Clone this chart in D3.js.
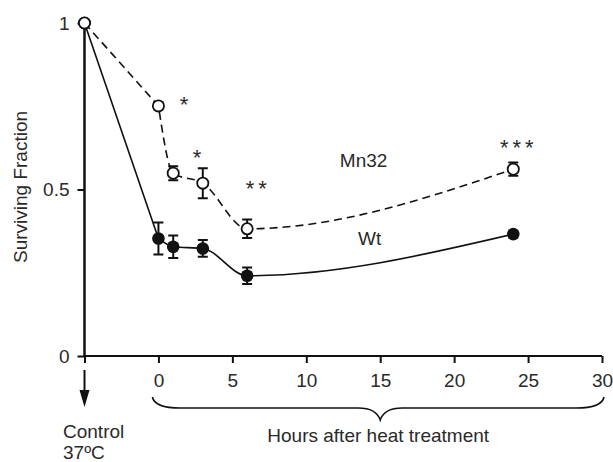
<!DOCTYPE html>
<html>
<head>
<meta charset="utf-8">
<script src="https://cdn.jsdelivr.net/npm/d3@7"></script>
<style>
  body { margin: 0; background: #fff; }
  text { font-family: "Liberation Sans", Arial, sans-serif; fill: #2a2a2a; }
</style>
</head>
<body>
<div id="chart"></div>
<script>
// hours after heat treatment; -5 is where the 37ºC control sits
const hours = [-5, 0, 1, 3, 6, 24];
const mn32 = [1.0, 0.751, 0.549, 0.519, 0.382, 0.561];
const mn32Err = [0, 0.01, 0.021, 0.045, 0.028, 0.02];
const wt = [1.0, 0.353, 0.328, 0.323, 0.241, 0.366];
const wtErr = [0, 0.048, 0.034, 0.025, 0.025, 0.01];
const xTicks = [0, 5, 10, 15, 20, 25, 30];
const yTicks = [0, 0.5, 1];

const width = 613, height = 462;
const fs = 19;

const svg = d3.select("#chart").append("svg")
    .attr("width", width).attr("height", height);

const x = d3.scaleLinear().domain([-5, 30]).range([84.5, 602]);
const y = d3.scaleLinear().domain([0, 1]).range([356, 23]);

// axes
const xAxis = svg.append("g")
    .attr("transform", `translate(0,${y(0)})`)
    .call(d3.axisBottom(x).tickValues([-5].concat(xTicks)).tickSize(7).tickPadding(11)
        .tickFormat(d => d < 0 ? "" : d));
xAxis.select(".domain").attr("stroke", "#111").attr("stroke-width", 2.2)
    .attr("d", `M${x(-5)},0H${x(30)}`);
xAxis.selectAll(".tick line").attr("stroke", "#111").attr("stroke-width", 2);
xAxis.selectAll(".tick text").attr("font-size", fs).attr("fill", "#2a2a2a")
    .attr("font-family", "Liberation Sans, Arial, sans-serif");

const yAxis = svg.append("g")
    .attr("transform", `translate(${x(-5)},0)`)
    .call(d3.axisLeft(y).tickValues(yTicks).tickSize(7).tickPadding(8)
        .tickFormat(d => d === 0.5 ? "0.5" : d));
yAxis.select(".domain").attr("stroke", "#111").attr("stroke-width", 2.5)
    .attr("d", `M0,${y(0)}V${y(1)}`);
yAxis.selectAll(".tick line").attr("stroke", "#111").attr("stroke-width", 2);
yAxis.selectAll(".tick text").attr("font-size", fs).attr("fill", "#2a2a2a")
    .attr("font-family", "Liberation Sans, Arial, sans-serif");

svg.append("text")
    .attr("transform", `translate(27,187) rotate(-90)`)
    .attr("text-anchor", "middle")
    .attr("font-size", fs)
    .text("Surviving Fraction");

// lines: straight from the control, smooth after heat treatment
const lineStraight = d3.line()
    .x((d, i) => x(hours[i]))
    .y(d => y(d));
const lineSmooth = d3.line()
    .x(d => x(d[0]))
    .y(d => y(d[1]))
    .curve(d3.curveMonotoneX);

function drawSeries(vals, dash) {
    const pts = vals.map((v, i) => [hours[i], v]);
    const d = lineStraight(vals.slice(0, 2)) + lineSmooth(pts.slice(1)).replace(/^M[^LC]*/, "");
    svg.append("path")
        .attr("d", d)
        .attr("fill", "none").attr("stroke", "#111").attr("stroke-width", 1.6)
        .attr("stroke-dasharray", dash);
}
drawSeries(mn32, "8,5");
drawSeries(wt, null);

// error bars
function errorBars(vals, errs) {
    const g = svg.append("g").attr("stroke", "#111").attr("stroke-width", 2).attr("fill", "none");
    vals.forEach((v, i) => {
        if (!errs[i]) return;
        const cx = x(hours[i]);
        const top = y(v + errs[i]), bot = y(v - errs[i]);
        g.append("path").attr("d", `M${cx},${top}V${bot}M${cx - 5},${top}H${cx + 5}M${cx - 5},${bot}H${cx + 5}`);
    });
}
errorBars(mn32, mn32Err);
errorBars(wt, wtErr);

// markers
svg.append("g").selectAll("circle").data(wt).join("circle")
    .attr("cx", (d, i) => x(hours[i])).attr("cy", d => y(d)).attr("r", 6.3)
    .attr("fill", "#111");

svg.append("g").selectAll("circle").data(mn32).join("circle")
    .attr("cx", (d, i) => x(hours[i])).attr("cy", d => y(d)).attr("r", 5.6)
    .attr("fill", "#fff").attr("stroke", "#111").attr("stroke-width", 1.8);

// significance marks and series labels
const marks = [
    { t: "*", h: 1.45, v: 0.772 },
    { t: "*", h: 2.32, v: 0.613 },
    { t: "**", h: 5.9, v: 0.52 },
    { t: "***", h: 23.1, v: 0.643 }
];
marks.forEach(m => {
    svg.append("text")
        .attr("x", x(m.h)).attr("y", y(m.v) + 13)
        .attr("font-size", 22).attr("letter-spacing", "4px")
        .text(m.t);
});

svg.append("text").attr("x", x(12.27)).attr("y", y(0.568))
    .attr("font-size", fs).text("Mn32");
svg.append("text").attr("x", x(13.5)).attr("y", y(0.333))
    .attr("font-size", fs).text("Wt");

// control arrow
const ax = x(-5);
svg.append("line").attr("x1", ax).attr("x2", ax).attr("y1", 370).attr("y2", 394)
    .attr("stroke", "#111").attr("stroke-width", 2);
svg.append("path").attr("d", `M${ax - 5},390L${ax + 5},390L${ax},407Z`).attr("fill", "#111");

svg.append("text").attr("x", 63).attr("y", 438).attr("font-size", fs).text("Control");
svg.append("text").attr("x", 63).attr("y", 459).attr("font-size", fs).text("37ºC");

// brace under the hours axis
const bl = x(0) - 6, br = x(30) + 2, bm = (x(0) + x(30)) / 2;
svg.append("path")
    .attr("d", `M${bl},397 Q${bl + 2},408 ${bl + 28},408 L${bm - 22},408 Q${bm - 4},408 ${bm},420 ` +
               `Q${bm + 4},408 ${bm + 22},408 L${br - 28},408 Q${br - 2},408 ${br},397`)
    .attr("fill", "none").attr("stroke", "#111").attr("stroke-width", 1.6);

svg.append("text").attr("x", bm - 2).attr("y", 442).attr("text-anchor", "middle")
    .attr("font-size", fs).text("Hours after heat treatment");
</script>
</body>
</html>
